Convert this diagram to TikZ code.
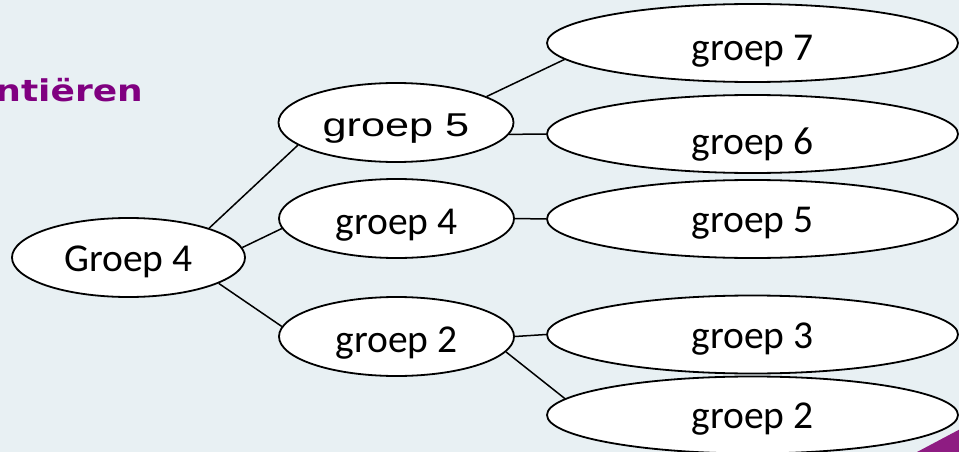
\documentclass[tikz,border=0pt]{standalone}
\usepackage{fontspec}
\usetikzlibrary{shapes.geometric}
\newfontfamily\calibf{Carlito}
\newfontfamily\arialf{Liberation Sans}
\newfontfamily\dejaf{DejaVu Sans}
\definecolor{bgc}{RGB}{232,240,243}
\definecolor{purp}{RGB}{128,0,128}
\definecolor{purptri}{RGB}{142,28,130}
\begin{document}
\begin{tikzpicture}[x=1pt,y=-1pt,
  oval/.style={ellipse, draw=black, line width=1.8pt, fill=white, inner sep=0pt,
    text depth=0pt, font=\calibf\fontsize{39.5}{39.5}\selectfont},
  ovalL/.style={oval, minimum width=233pt, minimum height=79pt},
  ovalM/.style={oval, minimum width=235pt, minimum height=79pt},
  ovalR/.style={oval, minimum width=411pt, minimum height=78pt},
  conn/.style={line width=1.5pt, black}]
\useasboundingbox (0,0) rectangle (959,452);
\begin{scope}
\clip (0,0) rectangle (959,452);
\fill[bgc] (0,0) rectangle (959,452);
\fill[purptri] (917,452) -- (1000,408) -- (1000,470) -- (917,470) -- cycle;
\node[anchor=base east, text=purp, font=\dejaf\bfseries\fontsize{30}{30}\selectfont, inner sep=0pt] (title) at (143,102) {\scalebox{1.2}[1]{ntiëren}};
% level 1
\node[ovalL, text height=27.6pt] (L) at (128.5,257.5) {Groep 4};
% level 2
\node[ovalM, text height=27.6pt, font=\arialf\fontsize{33}{33}\selectfont] (m5) at (396,122.5) {\scalebox{1.31}[1]{groep 5}};
\node[ovalM, text height=31pt] (m4) at (396.5,218.5) {groep 4};
\node[ovalM, text height=31pt] (m2) at (396.5,336.5) {groep 2};
% level 3
\node[ovalR, text height=34.6pt] (r7) at (752.5,43) {groep 7};
\node[ovalR, text height=41.6pt] (r6) at (752.5,134) {groep 6};
\node[ovalR, text height=27.6pt] (r5) at (752.5,219) {groep 5};
\node[ovalR, text height=28.6pt] (r3) at (752.5,334.5) {groep 3};
\node[ovalR, text height=27.6pt, minimum height=77pt] (r2) at (752.5,415) {groep 2};
% connectors
\draw[conn] (L.20) -- (m5.193);
\draw[conn] (L.5) -- (m4.185);
\draw[conn] (L.-16.5) -- (m2.175);
\draw[conn] (m5.16.8) -- (r7.185.3);
\draw[conn] (m5.-6.4) -- (r6.west);
\draw[conn] (m4.east) -- (r5.west);
\draw[conn] (m2.east) -- (r3.west);
\draw[conn] (m2.-8.6) -- (r2.175.5);
\end{scope}
\end{tikzpicture}
\end{document}
